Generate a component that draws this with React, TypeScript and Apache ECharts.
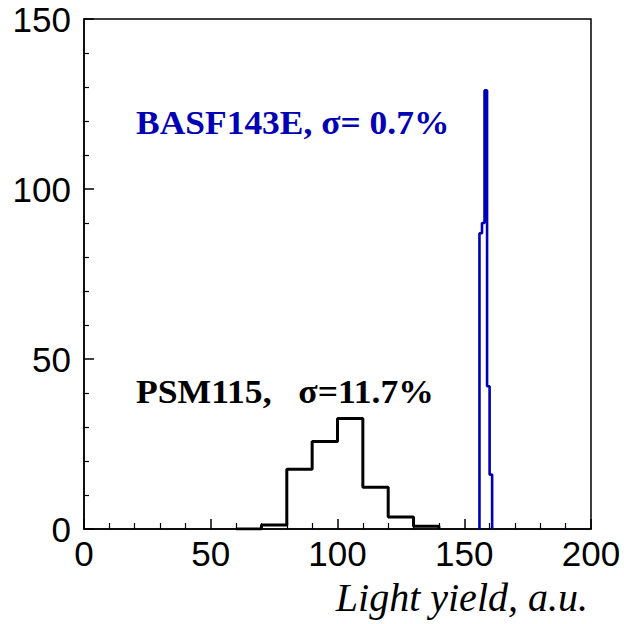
import React, { useEffect, useRef } from "react";
import * as echarts from "echarts";

// PSM115 histogram (bin edges and contents)
const psmEdges = [60, 70, 80, 90, 100, 110, 120, 130, 140];
const psmValues = [0, 1.2, 17.6, 25.7, 32.5, 12.3, 3.5, 0.8];

// BASF143E histogram (bin edges and contents)
const basfEdges = [156, 157, 158, 159, 160, 161];
const basfValues = [87, 90, 129, 42, 16];

const xTicks = [0, 50, 100, 150, 200];
const yTicks = [0, 50, 100, 150];

const basfLabel = "BASF143E, σ= 0.7%";
const psmLabel = "PSM115,   σ=11.7%";
const xTitle = "Light yield, a.u.";

function outline(edges: number[], values: number[]): number[][] {
  const pts: number[][] = [[edges[0], 0]];
  values.forEach((v, i) => {
    pts.push([edges[i], v]);
    pts.push([edges[i + 1], v]);
  });
  pts.push([edges[edges.length - 1], 0]);
  return pts;
}

const BLUE = "#0000b4";

export default function App() {
  const ref = useRef<HTMLDivElement>(null);
  useEffect(() => {
    if (!ref.current) return;
    const chart = echarts.init(ref.current, undefined, { renderer: "svg" });
    const axisCommon = {
      type: "value" as const,
      axisLine: { show: true, onZero: false, lineStyle: { color: "#000", width: 1.5 } },
      axisTick: { show: true, inside: true, length: 10, lineStyle: { color: "#000", width: 1.5 } },
      minorTick: { show: true, splitNumber: 5, lineStyle: { color: "#000", width: 1.2 } },
      splitLine: { show: false },
      minorSplitLine: { show: false },
    };
    chart.setOption({
      animation: false,
      backgroundColor: "#fff",
      grid: {
        left: 84,
        right: 33,
        top: 19,
        bottom: 95,
        show: true,
        borderColor: "#000",
        borderWidth: 1.5,
        backgroundColor: "transparent",
      },
      xAxis: {
        ...axisCommon,
        min: xTicks[0],
        max: xTicks[xTicks.length - 1],
        interval: xTicks[1] - xTicks[0],
        minorTick: { ...axisCommon.minorTick, length: 6 },
        axisLabel: {
          color: "#000",
          fontSize: 35,
          fontFamily: "Liberation Sans, Arial, sans-serif",
          margin: 7,
        },
      },
      yAxis: {
        ...axisCommon,
        min: yTicks[0],
        max: yTicks[yTicks.length - 1],
        interval: yTicks[1] - yTicks[0],
        minorTick: { ...axisCommon.minorTick, length: 5 },
        axisLabel: {
          color: "#000",
          fontSize: 35,
          fontFamily: "Liberation Sans, Arial, sans-serif",
          margin: 13,
        },
      },
      series: [
        {
          type: "line",
          data: outline(psmEdges, psmValues),
          symbol: "none",
          lineStyle: { color: "#000", width: 3 },
          itemStyle: { color: "#000" },
          z: 3,
        },
        {
          type: "line",
          data: outline(basfEdges, basfValues),
          symbol: "none",
          lineStyle: { color: BLUE, width: 2.6 },
          itemStyle: { color: BLUE },
          z: 4,
        },
      ],
      graphic: [
        {
          type: "text",
          x: 136,
          y: 122,
          scaleX: 1.075,
          style: {
            text: basfLabel,
            fill: BLUE,
            font: "bold 33px 'Liberation Serif', 'Times New Roman', serif",
            align: "left",
            verticalAlign: "middle",
          },
        },
        {
          type: "text",
          x: 136,
          y: 391,
          scaleX: 1.08,
          style: {
            text: psmLabel,
            fill: "#000",
            font: "bold 33px 'Liberation Serif', 'Times New Roman', serif",
            align: "left",
            verticalAlign: "middle",
          },
        },
        {
          type: "text",
          x: 588,
          y: 597,
          style: {
            text: xTitle,
            fill: "#000",
            font: "italic 40px 'Liberation Serif', 'Times New Roman', serif",
            align: "right",
            verticalAlign: "middle",
          },
        },
      ],
    });
    return () => chart.dispose();
  }, []);
  return (
    <div
      ref={ref}
      style={{ position: "fixed", left: 0, top: 0, width: 624, height: 624, background: "#fff" }}
    />
  );
}
